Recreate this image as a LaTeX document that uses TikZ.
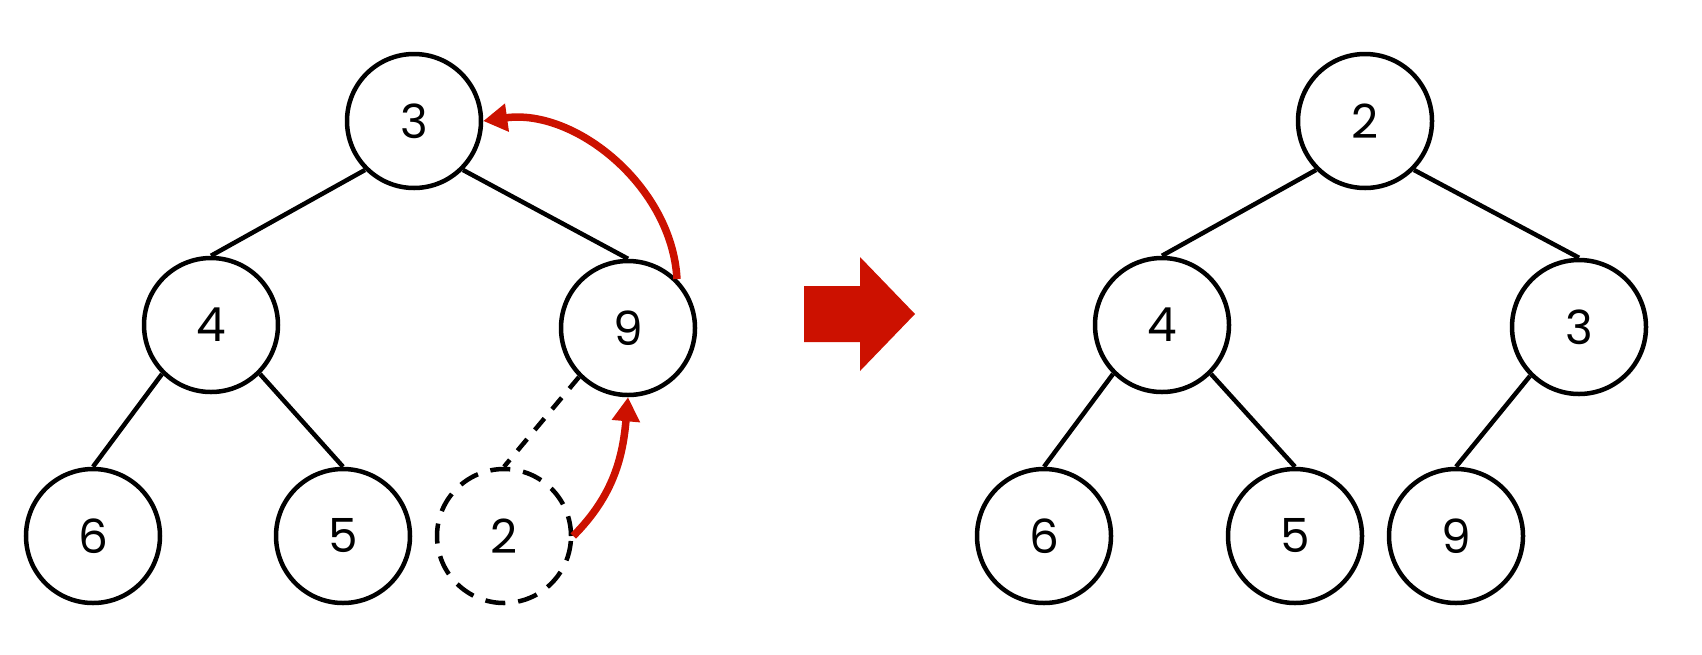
\documentclass[tikz,border=0pt]{standalone}
\usepackage{fontspec}
\setmainfont{Poppins}
\usetikzlibrary{arrows.meta}
\definecolor{hred}{RGB}{204,17,0}
\begin{document}
\begin{tikzpicture}[x=1pt,y=-1pt,
  hnode/.style={circle,draw=black,line width=4.5pt,minimum size=134pt,inner sep=0pt,font=\fontsize{47}{47}\selectfont},
  dnode/.style={hnode,dash pattern=on 20pt off 13pt},
  tedge/.style={line width=4.5pt,black},
  dedge/.style={line width=4.5pt,black,dash pattern=on 15pt off 12pt},
  swap/.style={line width=7.5pt,hred,-{Triangle[length=24pt,width=27pt]}}]
\useasboundingbox (0,0) rectangle (1702,654);
% left tree
\node[hnode] (a3) at (414,121) {3};
\node[hnode] (a4) at (211,325) {4};
\node[hnode] (a9) at (628,328) {9};
\node[hnode] (a6) at (93,536) {6};
\node[hnode] (a5) at (343,536) {5};
\node[dnode] (a2) at (504,536) {2};
\draw[tedge] (a3.south west) -- (a4.north);
\draw[tedge] (a3.south east) -- (a9.north);
\draw[tedge] (a4.south west) -- (a6.north);
\draw[tedge] (a4.south east) -- (a5.north);
\draw[dedge] (a9.south west) -- (a2.north);
\draw[swap] (a9.45) to[out=93,in=8,looseness=0.95] (a3.east);
\draw[swap] (a2.east) to[out=45,in=-95] (a9.south);
% big arrow
\fill[hred] (804,286) -- (860,286) -- (860,257) -- (915,314) -- (860,371) -- (860,342) -- (804,342) -- cycle;
% right tree
\node[hnode] (b2) at (1365,121) {2};
\node[hnode] (b4) at (1162,325) {4};
\node[hnode] (b3) at (1579,327) {3};
\node[hnode] (b6) at (1044,536) {6};
\node[hnode] (b5) at (1295,536) {5};
\node[hnode] (b9) at (1456,536) {9};
\draw[tedge] (b2.south west) -- (b4.north);
\draw[tedge] (b2.south east) -- (b3.north);
\draw[tedge] (b4.south west) -- (b6.north);
\draw[tedge] (b4.south east) -- (b5.north);
\draw[tedge] (b3.south west) -- (b9.north);
\end{tikzpicture}
\end{document}
